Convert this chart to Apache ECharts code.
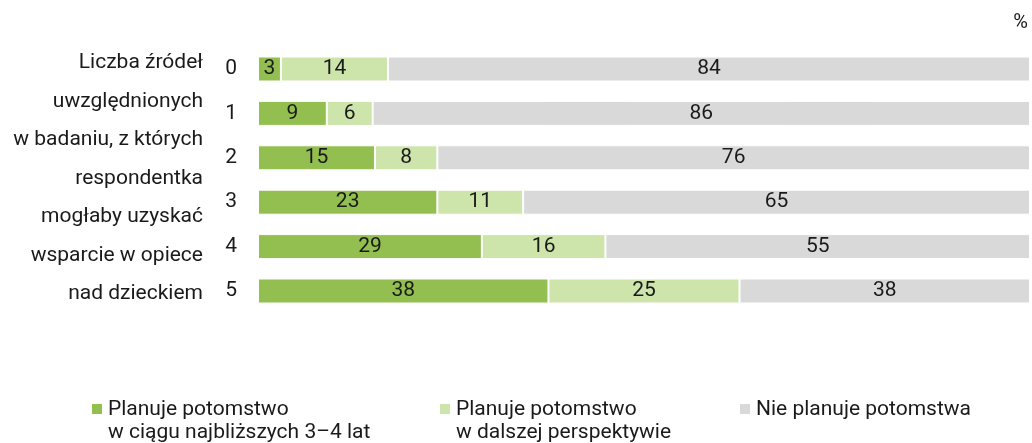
<!DOCTYPE html>
<html><head><meta charset="utf-8">
<script src="https://cdn.jsdelivr.net/npm/echarts@6/dist/echarts.min.js"></script>
<style>html,body{margin:0;padding:0;background:#fff}#c{width:1032px;height:443px}</style>
</head><body><div id="c"></div>
<script>
const categories = ['0', '1', '2', '3', '4', '5'];
const seriesNames = ['Planuje potomstwo\nw ciągu najbliższych 3–4 lat', 'Planuje potomstwo\nw dalszej perspektywie', 'Nie planuje potomstwa'];
const nearTerm = [3, 9, 15, 23, 29, 38];
const laterTerm = [14, 6, 8, 11, 16, 25];
const noPlans = [84, 86, 76, 65, 55, 38];
const axisTitle = 'Liczba źródeł\nuwzględnionych\nw badaniu, z których\nrespondentka\nmogłaby uzyskać\nwsparcie w opiece\nnad dzieckiem';
const colors = ['#92bf4f', '#cde4ab', '#d9d9d9'];
const FONT = 'Roboto';
const FS = 21;

const raw = [nearTerm, laterTerm, noPlans];
const totals = categories.map((_, i) => raw.reduce((s, a) => s + a[i], 0));

const legendX = [92, 440, 740];
const legendGraphics = [];
seriesNames.forEach((n, i) => {
  legendGraphics.push({ type: 'rect', shape: { x: legendX[i], y: 404, width: 10, height: 10 }, style: { fill: colors[i] } });
  legendGraphics.push({ type: 'text', x: legendX[i] + 16, y: 398.5, style: { text: n, fontSize: FS, lineHeight: 23, fill: '#1a1a1a', verticalAlign: 'top', fontFamily: FONT } });
});

const chart = echarts.init(document.getElementById('c'));
chart.setOption({
  animation: false,
  textStyle: { fontFamily: FONT },
  grid: { left: 258, right: 2, top: 46.8, bottom: 129.8, containLabel: false },
  xAxis: { type: 'value', min: 0, max: 100, show: false },
  yAxis: {
    type: 'category', data: categories, inverse: true,
    axisLine: { show: false }, axisTick: { show: false },
    axisLabel: { fontSize: FS, color: '#1a1a1a', margin: 21, fontFamily: FONT }
  },
  graphic: [
    { type: 'text', x: 1028, y: 13, style: { text: '%', fontSize: 20, fill: '#1a1a1a', align: 'right', verticalAlign: 'top', fontFamily: FONT } },
    { type: 'text', x: 203, y: 43.75, style: { text: axisTitle, fontSize: FS, lineHeight: 38.5, fill: '#1a1a1a', align: 'right', verticalAlign: 'top', fontFamily: FONT } }
  ].concat(legendGraphics),
  series: raw.map((arr, si) => ({
    name: seriesNames[si], type: 'bar', stack: 'total', barWidth: 25,
    data: arr.map((v, i) => ({ value: v / totals[i] * 100, raw: v })),
    itemStyle: { color: colors[si], borderColor: '#fff', borderWidth: 1 },
    label: {
      show: true, position: 'inside', fontSize: FS, color: '#1a1a1a', fontFamily: FONT,
      formatter: p => String(p.data.raw)
    }
  }))
});
</script></body></html>
